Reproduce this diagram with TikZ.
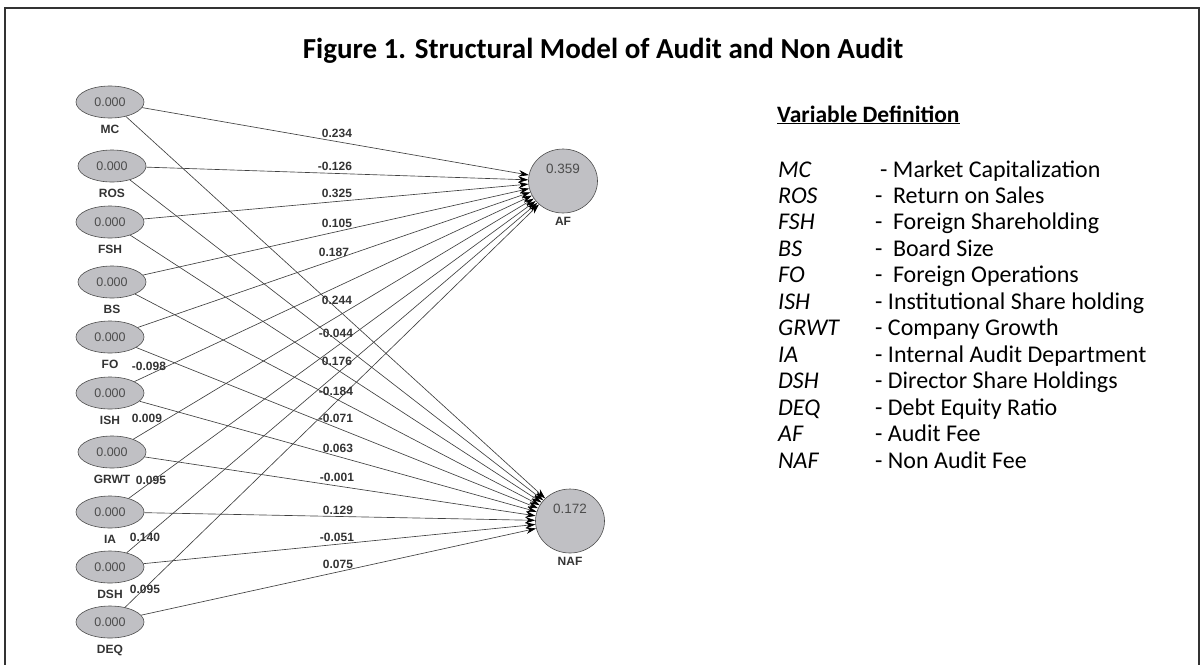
\documentclass[tikz,border=0pt]{standalone}
\usepackage{fontspec}
\setmainfont{Carlito}
\newfontfamily\arialf{Liberation Sans}
\usetikzlibrary{arrows.meta,shapes.geometric}
\definecolor{nodefill}{HTML}{C0C0C4}
\definecolor{edgecol}{HTML}{404040}
\begin{document}
\begin{tikzpicture}[x=1pt,y=-1pt,
  lat/.style={ellipse,draw=black!70,line width=0.6pt,fill=nodefill,
    minimum width=68pt,minimum height=32pt,inner sep=0pt,
    font=\arialf\fontsize{12.5}{12.5}\selectfont,text=black!70,
    label={[lbl,label distance=5pt]below:#1}},
  endo/.style={ellipse,draw=black!70,line width=0.6pt,fill=nodefill,
    minimum width=69pt,minimum height=64pt,inner sep=0pt,
    text height=9pt,text depth=24pt,
    font=\arialf\fontsize{13.5}{13.5}\selectfont,text=black!70,
    label={[lbl,label distance=2.5pt]below:#1}},
  lbl/.style={font=\arialf\bfseries\fontsize{12}{12}\selectfont,text=black!80,
    inner sep=1pt,text height=8.5pt,text depth=0pt},
  path/.style={draw=edgecol,line width=0.65pt,-{Stealth[length=10pt,width=6.5pt,black]}},
  coef/.style={font=\arialf\bfseries\fontsize{12}{12}\selectfont,text=black!80,inner sep=0pt},
  defab/.style={anchor=base west,font=\fontsize{24}{24}\selectfont\itshape,inner sep=0pt},
  deftx/.style={anchor=base west,font=\fontsize{24}{24}\selectfont,inner sep=0pt}
]
\useasboundingbox (0,0) rectangle (1204,664);
\draw[black!80,line width=2pt] (5,8) rectangle (1199,700);
\node (title) at (603,51) {\fontsize{29}{29}\selectfont\bfseries Figure 1. Structural Model of Audit and Non Audit};

% exogenous variables
\node[lat=MC]   (MC)   at (110,102) {0.000};
\node[lat=ROS]  (ROS)  at (112,166) {0.000};
\node[lat=FSH]  (FSH)  at (110,222) {0.000};
\node[lat=BS]   (BS)   at (112,282) {0.000};
\node[lat=FO]   (FO)   at (110,337) {0.000};
\node[lat=ISH]  (ISH)  at (110,393) {0.000};
\node[lat=GRWT] (GRWT) at (112,452) {0.000};
\node[lat=IA]   (IA)   at (110,512) {0.000};
\node[lat=DSH]  (DSH)  at (110,567) {0.000};
\node[lat=DEQ]  (DEQ)  at (110,622) {0.000};

% endogenous variables
\node[endo=AF]  (AF)  at (563,181) {0.359};
\node[endo=NAF] (NAF) at (570,521) {0.172};

% paths
\foreach \s in {MC,ROS,FSH,BS,FO,ISH,GRWT,IA,DSH,DEQ}{
  \draw[path] (\s) -- (AF);
  \draw[path] (\s) -- (NAF);
}

% coefficients to AF
\node[coef] (cMCAF)   at (337,133) {0.234};
\node[coef] (cROSAF)  at (335,166) {-0.126};
\node[coef] (cFSHAF)  at (337,193) {0.325};
\node[coef] (cBSAF)   at (337,223) {0.105};
\node[coef] (cFOAF)   at (334,252) {0.187};
\node[coef] (cISHAF)  at (149,366) {-0.098};
\node[coef] (cGRWTAF) at (147,418) {0.009};
\node[coef] (cIAAF)   at (151,480) {0.095};
\node[coef] (cDSHAF)  at (145,537) {0.140};
\node[coef] (cDEQAF)  at (145,589) {0.095};
% coefficients to NAF
\node[coef] (cMCNAF)   at (337,300) {0.244};
\node[coef] (cROSNAF)  at (336,333) {-0.044};
\node[coef] (cFSHNAF)  at (337,361) {0.176};
\node[coef] (cBSNAF)   at (336,391) {-0.184};
\node[coef] (cFONAF)   at (336,418) {-0.071};
\node[coef] (cISHNAF)  at (338,448) {0.063};
\node[coef] (cGRWTNAF) at (337,477) {-0.001};
\node[coef] (cIANAF)   at (338,510) {0.129};
\node[coef] (cDSHNAF)  at (337,537) {-0.051};
\node[coef] (cDEQNAF)  at (338,564) {0.075};

% variable definitions
\node[anchor=base west,inner sep=0pt,font=\fontsize{23.5}{23.5}\selectfont\bfseries] (vdhead) at (777,122) {\underline{Variable Definition}};
\node[defab] (dMC)   at (778,177.0) {MC};
\node[defab] (dROS)  at (778,203.5) {ROS};
\node[defab] (dFSH)  at (778,229.9) {FSH};
\node[defab] (dBS)   at (778,256.4) {BS};
\node[defab] (dFO)   at (778,282.8) {FO};
\node[defab] (dISH)  at (778,309.3) {ISH};
\node[defab] (dGRWT) at (778,335.7) {GRWT};
\node[defab] (dIA)   at (778,362.2) {IA};
\node[defab] (dDSH)  at (778,388.6) {DSH};
\node[defab] (dDEQ)  at (778,415.1) {DEQ};
\node[defab] (dAF)   at (778,441.5) {AF};
\node[defab] (dNAF)  at (778,468.0) {NAF};
\node[deftx] (tMC)   at (880,177.0) {- Market Capitalization};
\node[deftx] (tROS)  at (875,203.5) {-\hspace{10.5pt}Return on Sales};
\node[deftx] (tFSH)  at (875,229.9) {-\hspace{10.5pt}Foreign Shareholding};
\node[deftx] (tBS)   at (875,256.4) {-\hspace{10.5pt}Board Size};
\node[deftx] (tFO)   at (875,282.8) {-\hspace{10.5pt}Foreign Operations};
\node[deftx] (tISH)  at (875,309.3) {- Institutional Share holding};
\node[deftx] (tGRWT) at (875,335.7) {- Company Growth};
\node[deftx] (tIA)   at (875,362.2) {- Internal Audit Department};
\node[deftx] (tDSH)  at (875,388.6) {- Director Share Holdings};
\node[deftx] (tDEQ)  at (875,415.1) {- Debt Equity Ratio};
\node[deftx] (tAF)   at (875,441.5) {- Audit Fee};
\node[deftx] (tNAF)  at (875,468.0) {- Non Audit Fee};
\end{tikzpicture}
\end{document}
